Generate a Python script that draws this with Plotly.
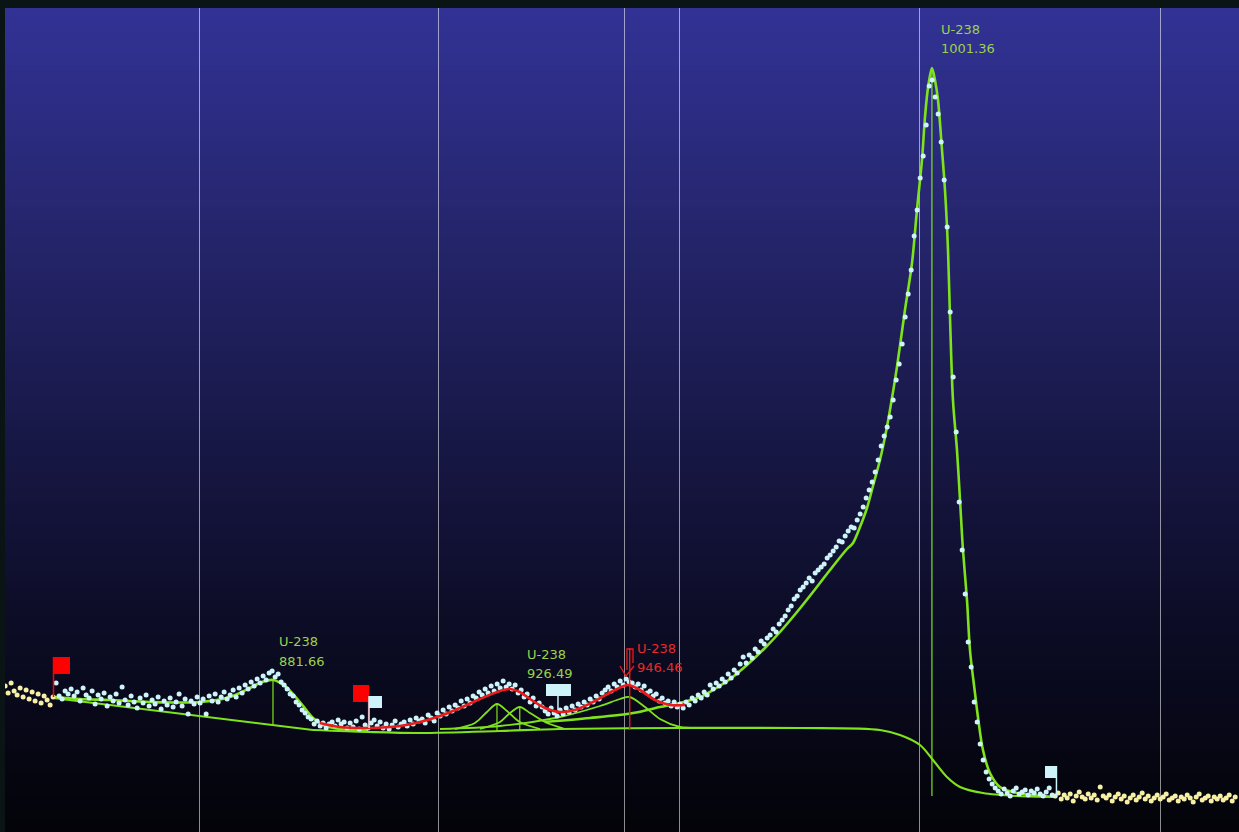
import base64
import struct
import zlib

import plotly.graph_objects as go

# ---------------------------------------------------------------------------
# Spectrum: counts per channel, calibration E = E0 + GAIN * channel (keV)
# ---------------------------------------------------------------------------
E0 = 833.0
GAIN = 0.545

counts_low_bg = [
    146, 139, 149, 141, 137, 144, 135, 142, 133, 140,
    131, 138, 129, 136, 132, 127, 135,
]
counts_roi = [
    # 842 - 868 keV
    149, 136, 133, 141, 138, 143, 136, 140, 131, 144,
    137, 134, 141, 128, 137, 133, 139, 126, 135, 131,
    138, 129, 145, 132, 127, 136, 130, 124, 134, 129,
    137, 126, 132, 128, 135, 123, 131, 127, 134, 125,
    130, 138, 126, 133, 118, 131, 128, 135, 129,
    # 868 - 892 keV (881.66 peak)
    133, 118, 136, 131, 138, 130, 135, 140, 133, 137,
    142, 135, 144, 139, 147, 143, 150, 146, 153, 149,
    156, 152, 159, 161, 155, 158, 150, 147, 143, 138,
    136, 130, 127, 122, 119, 115, 113, 108, 111, 106,
    109, 104, 108,
    # 892 - 908 keV
    110, 106, 112, 108, 110, 104, 109, 105, 111, 103,
    115, 107, 104, 109, 112, 106, 110, 104, 108, 103,
    107, 111, 105, 108, 110, 106, 112, 108, 114, 111,
    # 908 - 931 keV (922 / 926.49 doublet)
    113, 109, 117, 114, 111, 119, 116, 122, 118, 125,
    121, 127, 124, 131, 126, 133, 129, 136, 134, 140,
    137, 143, 139, 146, 141, 148, 144, 151, 145, 148,
    143, 147, 139, 142, 135, 138, 130, 134, 126, 129,
    125,
    # 931 - 956 keV (946.46 peak)
    121, 118, 124, 119, 116, 122, 118, 124, 120, 126,
    122, 128, 125, 130, 127, 133, 130, 136, 133, 139,
    142, 145, 141, 148, 145, 151, 147, 153, 150, 149,
    145, 148, 142, 146, 139, 141, 136, 138, 131, 134,
    129, 131, 126, 130, 125, 128,
    # 956 - 996 keV (low-energy tail of 1001.36)
    124, 130, 127, 134, 131, 137, 134, 140, 137, 147,
    143, 149, 146, 153, 150, 158, 154, 162, 159, 168,
    175, 169, 177, 174, 183, 180, 191, 188, 194, 197,
    203, 200, 208, 212, 216, 222, 226, 233, 236, 242,
    245, 249, 254, 251, 259, 262, 265, 268, 274, 277,
    281, 285, 291, 290, 296, 301, 305, 304, 312, 318,
    325, 334, 342, 350, 360, 372, 386, 396, 405, 415,
    432, 452, 468,
    # 996 - 1013 keV (1001.36 peak)
    488, 515, 538, 562, 596, 622, 654, 676, 707, 746,
    752, 735, 718, 690, 652, 605, 520, 455, 400, 330,
    282, 238, 190, 165, 130, 110, 88, 72, 60, 53,
    48, 44,
    # 1013 - 1023 keV
    41, 38, 43, 39, 36, 41, 44, 38, 40, 42,
    37, 41, 39, 43, 38, 36, 40, 44, 37,
]
counts_high_bg = [
    36, 39, 33, 37, 34, 38, 31, 36, 40, 35,
    33, 38, 34, 37, 32, 45, 36, 34, 37, 31,
    35, 38, 33, 36, 30, 34, 37, 32, 35, 39,
    33, 36, 31, 34, 37, 33, 35, 38, 32, 34,
    36, 31, 35, 33, 37, 34, 30, 35, 38, 32,
    34, 36, 31, 35, 33, 36, 32, 34, 37, 31,
    35,
]

# ---------------------------------------------------------------------------
# Fit results (keV, counts)
# ---------------------------------------------------------------------------
peak_names = ["U-238", "U-238", "U-238", "U-238"]
peak_energies = [881.66, 926.49, 946.46, 1001.36]
peak_heights = [152, 125, 184, 764]
peak_bases = [107, 101, 102, 36]
hidden_peak_energy = 922.35
hidden_peak_range = [101, 128]

fit_881_e = [842.06, 846.60, 852.05, 859.32, 868.40, 873.85, 877.48, 879.66,
             881.66, 883.84, 886.56, 888.93, 890.74, 893.83, 898.92]
fit_881_c = [135, 133, 132, 130, 130, 135, 144, 150,
             152, 146, 130, 114, 107, 103, 102]

fit_mid_e = [890.20, 893.83, 899.28, 904.73, 908.36, 912.00, 915.63, 919.26,
             922.90, 924.71, 926.49, 928.35, 931.07, 933.79, 936.52, 940.15,
             943.78, 946.15, 948.33, 951.05, 953.78, 956.50]
fit_mid_c = [109, 105, 104, 106, 110, 116, 124, 133,
             141, 143, 140, 133, 124, 120, 122, 131,
             142, 147, 142, 132, 127, 127]

fit_1001_e = [931.07, 939.24, 947.06, 951.96, 955.59, 959.23, 961.59, 964.68,
              967.76, 971.03, 973.76, 976.85, 979.75, 982.84, 985.93, 987.02,
              988.29, 989.56, 990.65, 991.92, 992.83, 993.74, 995.01, 996.46,
              997.74, 998.64, 999.55, 1000.10, 1000.64, 1001.36, 1001.91, 1002.46,
              1003.19, 1003.73, 1004.28, 1004.64, 1005.18, 1005.91, 1006.46, 1007.00,
              1007.73, 1008.27, 1009.18, 1009.72, 1010.63, 1011.90, 1013.72, 1016.81,
              1023.89]
fit_1001_c = [110, 114, 119, 125, 129, 135, 142, 153,
              167, 184, 200, 220, 240, 262, 283, 289,
              305, 324, 346, 372, 395, 422, 465, 522,
              569, 622, 672, 715, 744, 764, 752, 732,
              682, 642, 582, 515, 432, 382, 332, 282,
              232, 182, 139, 115, 82, 59, 45, 39,
              35]

base_low_e = [841.70, 888.93]
base_low_c = [134, 102]

base_step_e = [888.93, 898.92, 908.36, 922.90, 933.79, 955.59, 977.39, 991.92,
               995.56, 999.19, 1001.55, 1004.09, 1006.46, 1010.63, 1016.81, 1023.89]
base_step_c = [102, 100, 99, 101, 103, 104, 104, 102,
               97, 87, 72, 55, 45, 39, 36, 35]

comp_922_e = [914.72, 918.35, 920.53, 922.35, 924.17, 926.49, 930.16]
comp_922_c = [103, 109, 120, 128, 121, 110, 103]
comp_926_e = [919.26, 922.90, 924.71, 926.49, 928.35, 931.07, 934.70]
comp_926_c = [103, 110, 119, 125, 119, 110, 103]
comp_946_e = [912.00, 922.90, 933.79, 941.06, 944.69, 946.46, 949.24, 951.96,
              955.59, 959.23]
comp_946_c = [103, 106, 115, 126, 133, 135, 125, 113, 105, 104]

# ROI limits and markers (keV)
roi_lo, roi_hi = 842.0, 1023.5
grid_energies = [833.16, 868.22, 911.81, 945.60, 955.59, 999.19, 1042.79]

# ---------------------------------------------------------------------------
counts = counts_low_bg + counts_roi + counts_high_bg
energies = [E0 + GAIN * ch for ch in range(len(counts))]

in_e = [e for e in energies if roi_lo <= e <= roi_hi]
in_c = [c for e, c in zip(energies, counts) if roi_lo <= e <= roi_hi]
out_e = [e if not (roi_lo <= e <= roi_hi) else None for e in energies]
out_c = [c if not (roi_lo <= e <= roi_hi) else None for e, c in zip(energies, counts)]

GREEN = "#7fe31c"
RED = "#ec1b1b"
CYAN = "#cdf3fb"
YELLOW = "#f6efa4"
LABEL_GREEN = "#9bd24a"
LABEL_RED = "#e82a2a"


def gradient_png(stops, h=256):
    raw = bytearray()
    for r in range(h):
        t = r / (h - 1)
        for (t0, c0), (t1, c1) in zip(stops[:-1], stops[1:]):
            if t0 <= t <= t1:
                f = (t - t0) / (t1 - t0)
                col = [round(a + (b - a) * f) for a, b in zip(c0, c1)]
                break
        raw += b"\x00" + bytes(col)

    def chunk(tag, data):
        return (struct.pack(">I", len(data)) + tag + data
                + struct.pack(">I", zlib.crc32(tag + data) & 0xFFFFFFFF))

    png = (b"\x89PNG\r\n\x1a\n"
           + chunk(b"IHDR", struct.pack(">IIBBBBB", 1, h, 8, 2, 0, 0, 0))
           + chunk(b"IDAT", zlib.compress(bytes(raw)))
           + chunk(b"IEND", b""))
    return "data:image/png;base64," + base64.b64encode(png).decode()


bg_src = gradient_png([
    (0.0, (50, 50, 150)),
    (0.25, (38, 38, 112)),
    (0.5, (25, 25, 74)),
    (0.75, (12, 12, 38)),
    (1.0, (3, 3, 9)),
])

fig = go.Figure()


def line(x, y, color, width, spline=True):
    fig.add_trace(go.Scatter(
        x=x, y=y, mode="lines", hoverinfo="skip",
        line=dict(color=color, width=width,
                  shape="spline" if spline else "linear", smoothing=0.9),
    ))


# backgrounds and components
line(base_low_e, base_low_c, GREEN, 2.2, spline=False)
line(base_step_e, base_step_c, GREEN, 2.2)
line(comp_922_e, comp_922_c, GREEN, 1.8)
line(comp_926_e, comp_926_c, GREEN, 1.8)
line(comp_946_e, comp_946_c, GREEN, 1.8)

# centroid markers
for e, c0, c1 in zip(peak_energies, peak_bases, peak_heights):
    if e == 946.46:
        continue
    line([e, e], [c0, c1], GREEN, 1.2, spline=False)
line([hidden_peak_energy] * 2, hidden_peak_range, GREEN, 1.2, spline=False)

# total fits
line(fit_881_e, fit_881_c, GREEN, 2.6)
line(fit_1001_e, fit_1001_c, GREEN, 2.6)

# measured channels
fig.add_trace(go.Scatter(x=out_e, y=out_c, mode="markers", hoverinfo="skip",
                         marker=dict(color=YELLOW, size=5, line=dict(width=0))))
fig.add_trace(go.Scatter(x=in_e, y=in_c, mode="markers", hoverinfo="skip",
                         marker=dict(color=CYAN, size=5, line=dict(width=0))))

# selected multiplet fit
line(fit_mid_e, fit_mid_c, RED, 2.6)
line([946.46, 946.46], [102, 184], RED, 1.4, spline=False)

# ROI flags
shapes = []


def flag(pole_x, pole_y0, pole_y1, x0, x1, y0, y1, color):
    shapes.append(dict(type="line", xref="x", yref="y", x0=pole_x, x1=pole_x,
                       y0=pole_y0, y1=pole_y1, line=dict(color=color, width=1.5)))
    shapes.append(dict(type="rect", xref="x", yref="y", x0=x0, x1=x1, y0=y0, y1=y1,
                       fillcolor=color, line=dict(width=0)))


flag(841.79, 135, 175, 841.70, 844.79, 158, 175, "#ff0000")
flag(899.01, 104, 147, 896.19, 899.10, 130, 147, "#ff0000")
flag(899.10, 104, 136, 899.10, 901.46, 124, 136, CYAN)
flag(933.43, 122, 136, 931.25, 935.79, 136, 148, CYAN)
flag(1023.98, 35, 66, 1021.90, 1024.08, 54, 66, CYAN)
shapes.append(dict(type="path", xref="x", yref="y",
                   path="M 945.96,162 L 945.96,183 L 947.06,183 L 947.06,169",
                   line=dict(color=RED, width=1.3)))
shapes.append(dict(type="path", xref="x", yref="y",
                   path="M 944.69,166 L 945.78,156 L 947.24,166",
                   line=dict(color=RED, width=1.3)))

# peak labels
annotations = []
label_pos = [(882.57, 191, 171), (927.62, 178, 159), (947.60, 184, 165), (1002.82, 803, 784)]
for name, e, (lx, y_name, y_val) in zip(peak_names, peak_energies, label_pos):
    color = LABEL_RED if e == 946.46 else LABEL_GREEN
    for text, yy in ((name, y_name), (f"{e:.2f}", y_val)):
        annotations.append(dict(x=lx, y=yy, xref="x", yref="y", text=text,
                                showarrow=False, xanchor="left", yanchor="middle",
                                font=dict(family="DejaVu Sans", size=13, color=color),
                                borderpad=0))

fig.update_layout(
    width=1239, height=832,
    margin=dict(l=5, r=0, t=8, b=0),
    paper_bgcolor="#0a1414",
    plot_bgcolor="rgba(0,0,0,0)",
    showlegend=False,
    shapes=shapes,
    annotations=annotations,
    images=[dict(source=bg_src, xref="paper", yref="paper", x=0, y=1,
                 sizex=1, sizey=1, xanchor="left", yanchor="top",
                 sizing="stretch", layer="below")],
    xaxis=dict(range=[832.98, 1057.14], tickvals=grid_energies,
               showticklabels=False, ticks="", showgrid=True,
               gridcolor="rgba(255,255,255,0.55)", gridwidth=1,
               zeroline=False, showline=False, fixedrange=True),
    yaxis=dict(range=[0, 824], showticklabels=False, ticks="", showgrid=False,
               zeroline=False, showline=False, fixedrange=True),
)

fig.write_html("out.html")
